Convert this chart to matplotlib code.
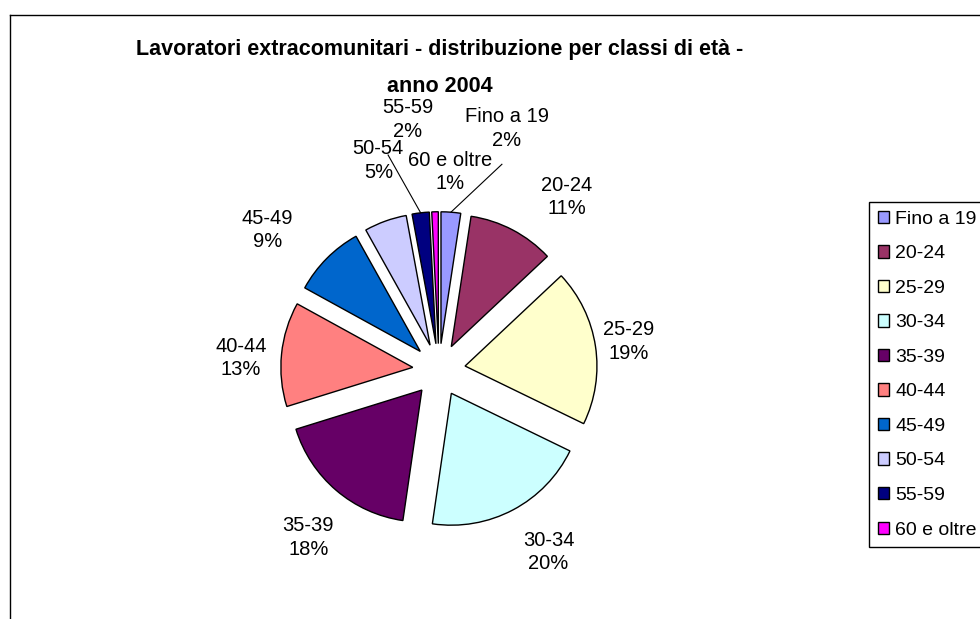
import matplotlib
matplotlib.use("Agg")
import matplotlib.pyplot as plt
from matplotlib.lines import Line2D
import numpy as np

plt.rcParams['font.family'] = ['Liberation Sans', 'DejaVu Sans']

classi = ["Fino a 19", "20-24", "25-29", "30-34", "35-39",
          "40-44", "45-49", "50-54", "55-59", "60 e oltre"]
quote = [2.4, 10.6, 19.2, 20.1, 17.9, 12.8, 8.9, 5.2, 2.1, 0.8]
percentuali = ["2%", "11%", "19%", "20%", "18%", "13%", "9%", "5%", "2%", "1%"]
colori = ["#9999FF", "#993366", "#FFFFCC", "#CCFFFF", "#660066",
          "#FF8080", "#0066CC", "#CCCCFF", "#000080", "#FF00FF"]
titolo = "Lavoratori extracomunitari - distribuzione per classi di età -\nanno 2004"

# posizione delle etichette (coordinate del grafico, raggio torta = 1)
pos_etichette = [(0.515, 1.83), (0.97, 1.31), (1.44, 0.215), (0.83, -1.38),
                 (-0.99, -1.27), (-1.50, 0.09), (-1.30, 1.06), (-0.46, 1.59),
                 (-0.235, 1.90), (0.083, 1.50)]
# etichette con linea guida: indice -> punto di partenza della linea
guide = {0: (0.477, 1.56), 8: (-0.386, 1.63)}
esplodi = 0.2

fig = plt.figure(figsize=(9.8, 6.19), dpi=100)
ax = fig.add_axes([228 / 980, 38 / 619, 422 / 980, 422 / 619])

wedges, _ = ax.pie(quote, colors=colori, startangle=90, counterclock=False,
                   explode=[esplodi] * len(quote),
                   wedgeprops=dict(edgecolor="black", linewidth=1.0))
ax.set_xlim(-1.6, 1.6)
ax.set_ylim(-1.6, 1.6)
ax.set_aspect("equal")
ax.axis("off")

for i, w in enumerate(wedges):
    x, y = pos_etichette[i]
    ax.text(x, y, classi[i] + "\n" + percentuali[i], ha="center", va="center",
            fontsize=14.5, linespacing=1.3)
    if i in guide:
        ang = np.deg2rad((w.theta1 + w.theta2) / 2)
        r = 1 + esplodi
        x0, y0 = guide[i]
        ax.plot([x0, r * np.cos(ang)], [y0, r * np.sin(ang)],
                color="black", linewidth=0.8, clip_on=False)

fig.text(440 / 980, 1 - 68 / 619, titolo, ha="center", va="center",
         fontsize=15.5, fontweight="bold", linespacing=2.05)

leg = fig.legend(wedges, classi, loc="upper left",
                 bbox_to_anchor=(869 / 980, 1 - 202 / 619),
                 fontsize=14, frameon=True, fancybox=False, edgecolor="black",
                 framealpha=1, handlelength=0.6, handleheight=0.6,
                 handletextpad=0.3, labelspacing=0.9, borderpad=0.45,
                 borderaxespad=0)
leg.get_frame().set_linewidth(1.0)

# cornice dell'area del grafico
fig.add_artist(Line2D([10 / 980, 10 / 980], [0, 1 - 15 / 619],
                      color="black", linewidth=1.0))
fig.add_artist(Line2D([10 / 980, 1], [1 - 15 / 619, 1 - 15 / 619],
                      color="black", linewidth=1.0))

fig.savefig("out.png", dpi=100)
